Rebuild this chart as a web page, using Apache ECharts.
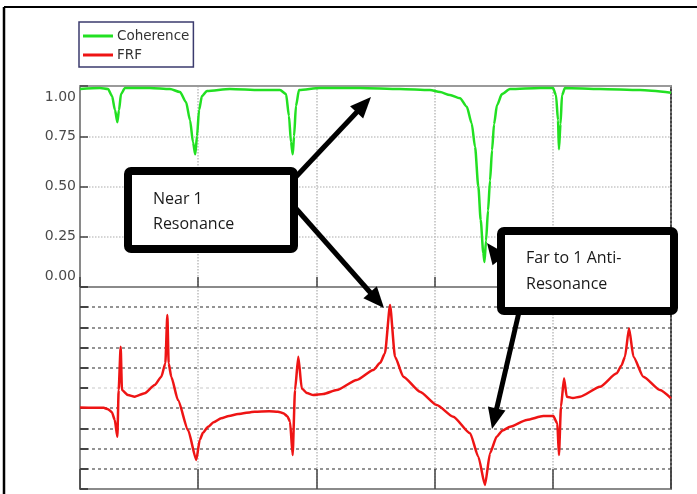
<!DOCTYPE html>
<html>
<head>
<meta charset="utf-8">
<script src="https://cdn.jsdelivr.net/npm/echarts@6/dist/echarts.min.js"></script>
<style>
html,body{margin:0;padding:0;background:#fff;}
#chart{width:697px;height:494px;}
</style>
</head>
<body>
<div id="chart"></div>
<script>
// ---- Data ----
const seriesNames = ['Coherence', 'FRF'];
const cohTickLabels = ['0.00', '0.25', '0.50', '0.75', '1.00'];

const cohFreq = [0, 16.9, 23.7, 27.1, 29.6, 31.6, 33.0, 34.7, 38.1, 59.2, 76.1, 84.6, 89.7, 93.1, 95.6, 97.5, 99.0, 100.7, 103.2, 107.4,
  126.9, 152.3, 169.2, 174.3, 176.8, 178.5, 180.0, 181.1, 182.7, 185.3, 203.0, 236.9, 270.7, 296.1, 304.6, 313.0, 321.5, 327.2,
  331.4, 334.2, 337.0, 339.0, 341.2, 342.2, 343.5, 345.2, 346.9, 348.6, 350.3, 352.8, 357.0, 363.8, 389.2, 400.2, 402.7, 404.4,
  405.2, 406.5, 407.8, 410.3, 439.9, 473.8, 500];
const cohValues = [0.985, 0.99, 0.985, 0.95, 0.88, 0.82, 0.88, 0.96, 0.99, 0.99, 0.985, 0.97, 0.92, 0.83, 0.72, 0.66, 0.75, 0.88, 0.95, 0.975,
  0.985, 0.98, 0.98, 0.96, 0.85, 0.72, 0.66, 0.75, 0.90, 0.98, 0.99, 0.99, 0.985, 0.98, 0.97, 0.955, 0.939, 0.897,
  0.814, 0.698, 0.499, 0.333, 0.169, 0.125, 0.23, 0.38, 0.53, 0.68, 0.81, 0.905, 0.96, 0.985, 0.99, 0.99, 0.955, 0.83,
  0.685, 0.81, 0.955, 0.99, 0.985, 0.98, 0.967];

const frfFreq = [0, 20.0, 23.7, 27.0, 29.4, 31.6, 32.7, 34.4, 35.5, 40.6, 46.3, 54.7, 63.2, 68.8, 72.2, 73.9, 75.0, 77.2, 82.9, 91.4, 98.4,
  101.3, 104.0, 108.3, 113.0, 119.5, 126.0, 133.7, 147.8, 160.0, 167.5, 172.0, 175.5, 177.7, 179.9, 181.9, 184.7, 187.6, 192.0, 197.4, 205.8, 217.2, 234.1, 248.1,
  254.0, 258.0, 262.3, 266.5, 273.5, 287.6, 301.8, 315.8, 330.0, 337.0, 342.6, 346.9, 352.5, 357.5, 363.8, 377.9, 392.0, 400.4, 403.8,
  405.2, 406.9, 409.5, 411.8, 417.0, 423.0, 439.9, 454.1, 458.0, 461.1, 464.5, 468.2, 476.6, 490.7, 500];
const frfValues = [4.04, 4.02, 3.95, 3.8, 3.42, 2.59, 4.9, 7.04, 4.9, 4.65, 4.57, 4.74, 5.15, 5.56, 6.22, 8.61, 6.22, 5.56, 4.4, 2.92, 1.44,
  2.43, 2.78, 3.08, 3.3, 3.5, 3.62, 3.71, 3.83, 3.85, 3.83, 3.75, 3.6, 3.33, 1.68, 4.9, 6.55, 4.98, 4.75, 4.65, 4.7, 4.9, 5.4, 5.89,
  6.25, 6.72, 9.11, 6.55, 5.56, 4.82, 4.16, 3.58, 2.76, 1.6, 0.2, 1.77, 2.59, 2.9, 3.08, 3.42, 3.61, 3.61, 3.25,
  1.68, 4.07, 5.48, 4.57, 4.5, 4.57, 5.06, 5.73, 6.1, 6.55, 7.96, 6.55, 5.56, 4.9, 4.49];

const annotations = [
  {lines: ['Near 1', 'Resonance']},
  {lines: ['Far to 1 Anti-', 'Resonance']}
];

function pairs(xs, ys) { return xs.map((x, i) => [x, ys[i]]); }

// ---- Annotation helpers ----
function arrow(x1, y1, x2, y2) {
  const dx = x2 - x1, dy = y2 - y1;
  const len = Math.sqrt(dx * dx + dy * dy);
  const ux = dx / len, uy = dy / len;
  const hl = 21, hw = 9;
  const bx = x2 - ux * hl, by = y2 - uy * hl;
  const px = -uy, py = ux;
  return [
    {type: 'line', z: 50, shape: {x1: x1, y1: y1, x2: x2 - ux * hl * 0.7, y2: y2 - uy * hl * 0.7},
      style: {stroke: '#000', lineWidth: 5}},
    {type: 'polygon', z: 50, shape: {points: [[x2, y2], [bx + px * hw, by + py * hw], [bx - px * hw, by - py * hw]]},
      style: {fill: '#000'}}
  ];
}

const textFont = '16px "Open Sans"';
const graphics = [
  {type: 'line', z: 60, shape: {x1: 4, y1: 7, x2: 697, y2: 7}, style: {stroke: '#000', lineWidth: 2}},
  {type: 'line', z: 60, shape: {x1: 4, y1: 7, x2: 4, y2: 494}, style: {stroke: '#000', lineWidth: 2.5}},
  ...arrow(292, 181, 371, 97),
  ...arrow(292, 204, 384, 308),
  ...arrow(506, 268, 487, 243),
  ...arrow(519, 312, 492, 429),
  {type: 'rect', z: 55, shape: {x: 128, y: 171, width: 166, height: 78, r: 3},
    style: {fill: '#fff', stroke: '#000', lineWidth: 8}},
  {type: 'text', z: 56, style: {text: annotations[0].lines[0], x: 153, y: 199, font: textFont, fill: '#1a1a1a', verticalAlign: 'middle'}},
  {type: 'text', z: 56, style: {text: annotations[0].lines[1], x: 153, y: 224, font: textFont, fill: '#1a1a1a', verticalAlign: 'middle'}},
  {type: 'rect', z: 55, shape: {x: 501, y: 231, width: 173, height: 80, r: 3},
    style: {fill: '#fff', stroke: '#000', lineWidth: 8}},
  {type: 'text', z: 56, style: {text: annotations[1].lines[0], x: 526, y: 258, font: textFont, fill: '#1a1a1a', verticalAlign: 'middle'}},
  {type: 'text', z: 56, style: {text: annotations[1].lines[1], x: 526, y: 284, font: textFont, fill: '#1a1a1a', verticalAlign: 'middle'}}
];

const gridLineLight = {type: 'dotted', color: '#bdbdbd', width: 1.5};
const frfSplitColors = ['#7a7a7a', '#7a7a7a', '#7a7a7a', '#7a7a7a', '#7a7a7a', '#dddddd', '#7a7a7a', '#7a7a7a', '#7a7a7a', '#7a7a7a', '#7a7a7a'];

const chart = echarts.init(document.getElementById('chart'), null, {renderer: 'canvas'});
chart.setOption({
  backgroundColor: '#fff',
  animation: false,
  legend: {
    orient: 'vertical', left: 79, top: 22,
    borderColor: '#3b3b6e', borderWidth: 1.5, borderRadius: 0,
    padding: [6, 4, 4, 4], itemGap: 3, itemWidth: 30, itemHeight: 3,
    textStyle: {fontFamily: 'DejaVu Sans', fontSize: 13.5, color: '#333', lineHeight: 16, padding: [0, 0, 0, -1]},
    data: [{name: seriesNames[0], icon: 'rect'}, {name: seriesNames[1], icon: 'rect'}]
  },
  grid: [
    {left: 80, top: 86, width: 591, height: 201},
    {left: 80, top: 287, width: 591, height: 202}
  ],
  xAxis: [
    {gridIndex: 0, type: 'value', min: 0, max: 500, interval: 100, position: 'bottom',
      axisLine: {show: true, onZero: false, lineStyle: {color: '#8a8a8a', width: 2}},
      axisTick: {show: true, inside: true, length: 10, lineStyle: {color: '#444', width: 1.5}},
      axisLabel: {show: false}, splitLine: {show: true, lineStyle: gridLineLight}},
    {gridIndex: 0, type: 'value', min: 0, max: 500, position: 'top',
      axisLine: {show: true, onZero: false, lineStyle: {color: '#9a9a9a', width: 2}},
      axisTick: {show: false}, axisLabel: {show: false}, splitLine: {show: false}},
    {gridIndex: 1, type: 'value', min: 0, max: 500, interval: 100, position: 'bottom',
      axisLine: {show: true, onZero: false, lineStyle: {color: '#8a8a8a', width: 2}},
      axisTick: {show: true, inside: true, length: 20, lineStyle: {color: '#444', width: 1.5}},
      axisLabel: {show: false}, splitLine: {show: true, lineStyle: gridLineLight}}
  ],
  yAxis: [
    {gridIndex: 0, type: 'value', min: 0, max: 1, interval: 0.25, position: 'left',
      axisLine: {show: true, onZero: false, lineStyle: {color: '#8a8a8a', width: 2}},
      axisTick: {show: true, inside: true, length: 8, lineStyle: {color: '#444', width: 1.5}},
      axisLabel: {show: true, margin: 4, fontFamily: 'DejaVu Sans', fontSize: 14, color: '#4a4a4a', lineHeight: 22,
        verticalAlignMinLabel: 'bottom', verticalAlignMaxLabel: 'top',
        formatter: function (v) { return cohTickLabels[Math.round(v / 0.25)]; }},
      splitLine: {show: true, lineStyle: {type: 'dotted', color: '#c8c8c8', width: 1.5}}},
    {gridIndex: 0, type: 'value', min: 0, max: 1, position: 'right',
      axisLine: {show: true, onZero: false, lineStyle: {type: 'dotted', color: '#444', width: 2}},
      axisTick: {show: false}, axisLabel: {show: false}, splitLine: {show: false}},
    {gridIndex: 1, type: 'value', min: 0, max: 10, interval: 1, position: 'left',
      axisLine: {show: true, onZero: false, lineStyle: {color: '#8a8a8a', width: 2}},
      axisTick: {show: true, inside: true, length: 8, lineStyle: {color: '#444', width: 2}},
      axisLabel: {show: false},
      splitLine: {show: true, lineStyle: {type: [3, 3], color: frfSplitColors, width: 1.6}}},
    {gridIndex: 1, type: 'value', min: 0, max: 10, position: 'right',
      axisLine: {show: true, onZero: false, lineStyle: {type: 'dotted', color: '#444', width: 2}},
      axisTick: {show: false}, axisLabel: {show: false}, splitLine: {show: false}}
  ],
  series: [
    {name: seriesNames[0], type: 'line', xAxisIndex: 0, yAxisIndex: 0, data: pairs(cohFreq, cohValues),
      showSymbol: false, symbol: 'none', smooth: 0.25, smoothMonotone: 'x',
      color: '#22e022', lineStyle: {color: '#22e022', width: 2.5}, z: 5},
    {name: seriesNames[1], type: 'line', xAxisIndex: 2, yAxisIndex: 2, data: pairs(frfFreq, frfValues),
      showSymbol: false, symbol: 'none', smooth: 0.2, smoothMonotone: 'x',
      color: '#ee1414', lineStyle: {color: '#ee1414', width: 2.5}, z: 5}
  ],
  graphic: graphics
});
</script>
</body>
</html>
